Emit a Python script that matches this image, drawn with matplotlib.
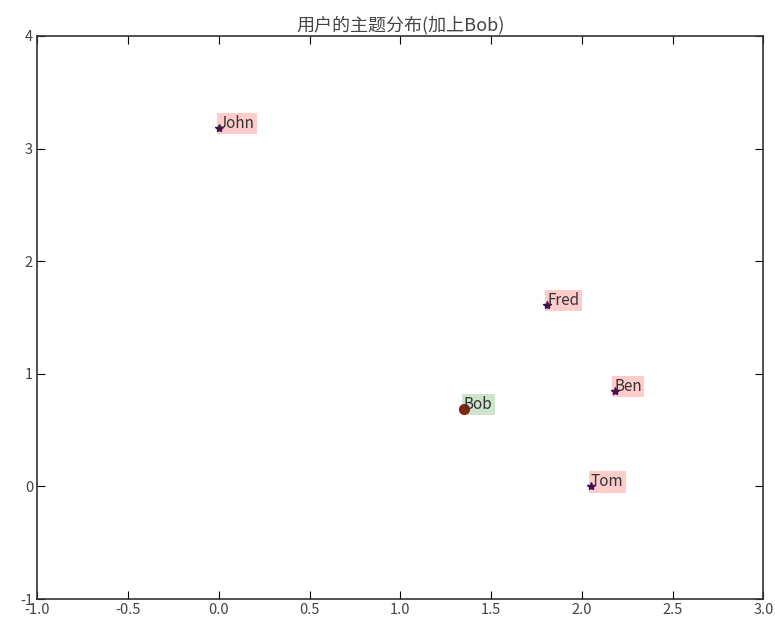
import matplotlib
matplotlib.use("Agg")
import matplotlib.pyplot as plt

plt.rcParams['font.family'] = ['Noto Sans CJK SC', 'DejaVu Sans']
plt.rcParams['axes.unicode_minus'] = False

names = ['John', 'Fred', 'Ben', 'Tom']
xs = [0.0, 1.81, 2.18, 2.05]
ys = [3.18, 1.61, 0.85, 0.0]
bob_name = 'Bob'
bob_x = 1.35
bob_y = 0.69
title = '用户的主题分布(加上Bob)'

fig = plt.figure(figsize=(7.75, 6.26), dpi=100)
ax = fig.add_axes([0.048, 0.043, 0.937, 0.8995])
ax.plot(xs, ys, '*', color='#1c1464', markersize=6, linestyle='none')
for n, x, y in zip(names, xs, ys):
    ax.text(x, y, n, fontsize=11, color='#333333',
            bbox=dict(facecolor='red', alpha=0.2, edgecolor='none', pad=1.5))
ax.plot([bob_x], [bob_y], 'o', color='#a01010', markersize=7)
ax.text(bob_x, bob_y, bob_name, fontsize=11, color='#333333',
        bbox=dict(facecolor='green', alpha=0.2, edgecolor='none', pad=1.5))
ax.set_xlim(-1, 3)
ax.set_ylim(-1, 4)
ax.set_xticks([-1.0, -0.5, 0.0, 0.5, 1.0, 1.5, 2.0, 2.5, 3.0])
ax.set_yticks([-1, 0, 1, 2, 3, 4])
ax.tick_params(direction='in', top=True, right=True, length=6, labelsize=10.5,
               labelcolor='#444444', pad=3)
for s in ax.spines.values():
    s.set_linewidth(1.2)
    s.set_color('#333333')
ax.set_title(title, fontsize=13, color='#444444', pad=4)
fig.savefig('out.png', dpi=100)
